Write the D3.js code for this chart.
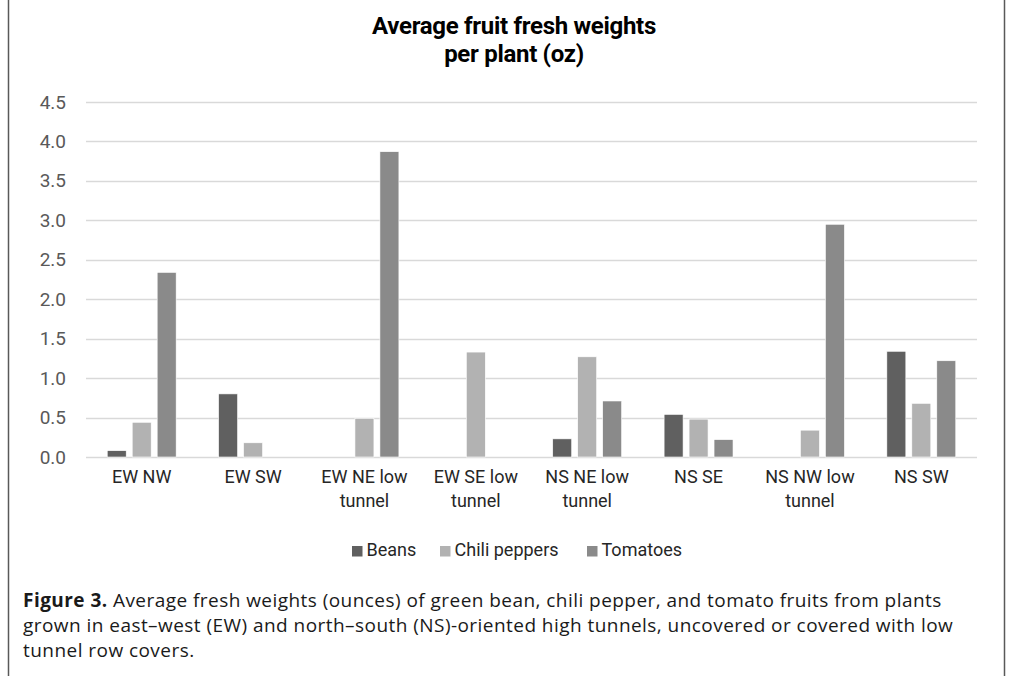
<!DOCTYPE html>
<html>
<head>
<meta charset="utf-8">
<script src="https://cdn.jsdelivr.net/npm/d3@7"></script>
<style>
  html, body { margin: 0; padding: 0; background: #fff; }
  svg { display: block; }
</style>
</head>
<body>
<svg id="chart" width="1011" height="676"></svg>
<script>
const categories = ["EW NW", "EW SW", "EW NE low tunnel", "EW SE low tunnel", "NS NE low tunnel", "NS SE", "NS NW low tunnel", "NS SW"];
const seriesNames = ["Beans", "Chili peppers", "Tomatoes"];
const beans = [0.08, 0.80, 0, 0, 0.23, 0.54, 0, 1.34];
const chiliPeppers = [0.44, 0.18, 0.49, 1.33, 1.27, 0.48, 0.34, 0.68];
const tomatoes = [2.34, 0, 3.87, 0, 0.71, 0.22, 2.95, 1.22];
const yTicks = [0, 0.5, 1.0, 1.5, 2.0, 2.5, 3.0, 3.5, 4.0, 4.5];
const seriesColors = ["#606060", "#b2b2b2", "#8a8a8a"];
const titleLines = ["Average fruit fresh weights", "per plant (oz)"];
const captionBold = "Figure 3.";
const captionLines = [
  " Average fresh weights (ounces) of green bean, chili pepper, and tomato fruits from plants",
  "grown in east\u2013west (EW) and north\u2013south (NS)-oriented high tunnels, uncovered or covered with low",
  "tunnel row covers."
];

(function () {
const seriesValues = [beans, chiliPeppers, tomatoes];
const data = categories.map((c, i) => ({
  cat: c,
  vals: seriesNames.map((s, j) => ({ series: s, idx: j, value: seriesValues[j][i] }))
}));

const svg = d3.select("#chart");

// figure border
svg.append("line").attr("x1", 8.5).attr("x2", 8.5).attr("y1", 0).attr("y2", 676)
  .attr("stroke", "#595959").attr("stroke-width", 1.5);
svg.append("line").attr("x1", 1004.5).attr("x2", 1004.5).attr("y1", 0).attr("y2", 676)
  .attr("stroke", "#595959").attr("stroke-width", 1.5);

const pLeft = 86, pRight = 977, pTop = 102, pBottom = 457;

const x0 = d3.scaleBand().domain(categories).range([pLeft, pRight]).padding(0);
const x1 = d3.scaleBand().domain(seriesNames).range([0, x0.bandwidth()])
  .paddingInner(0.24).paddingOuter(0.85);
const y = d3.scaleLinear().domain([0, 4.5]).range([pBottom, pTop]);
const color = d3.scaleOrdinal().domain(seriesNames).range(seriesColors);

// gridlines
svg.append("g").selectAll("line").data(yTicks).join("line")
  .attr("x1", pLeft).attr("x2", pRight)
  .attr("y1", d => Math.round(y(d)) + 0.5).attr("y2", d => Math.round(y(d)) + 0.5)
  .attr("stroke", "#d9d9d9").attr("stroke-width", 1.5);

// y axis labels
const yAxis = d3.axisLeft(y).tickValues(yTicks).tickFormat(d3.format(".1f")).tickSize(0).tickPadding(0);
const yg = svg.append("g").attr("transform", `translate(66,0)`).call(yAxis);
yg.select(".domain").remove();
yg.selectAll("text")
  .attr("font-family", "Roboto, sans-serif").attr("font-size", 19).attr("fill", "#595959");

// bars
const groups = svg.append("g").selectAll("g").data(data).join("g")
  .attr("transform", d => `translate(${x0(d.cat)},0)`);
groups.selectAll("rect").data(d => d.vals.filter(v => v.value > 0)).join("rect")
  .attr("x", d => x1(d.series))
  .attr("width", x1.bandwidth())
  .attr("y", d => y(d.value))
  .attr("height", d => y(0) - y(d.value))
  .attr("fill", d => color(d.series))
  .attr("stroke", "#ffffff").attr("stroke-width", 0.6);

// x axis labels
const xAxis = d3.axisBottom(x0).tickSize(0).tickPadding(0).tickFormat("");
const xg = svg.append("g").attr("transform", `translate(0,${pBottom})`).call(xAxis);
xg.select(".domain").remove();
xg.selectAll(".tick").each(function(d) {
  const parts = d.includes(" tunnel") ? [d.replace(" tunnel", ""), "tunnel"] : [d];
  const t = d3.select(this).append("text")
    .attr("text-anchor", "middle")
    .attr("font-family", "Roboto, sans-serif").attr("font-size", 18).attr("fill", "#262626");
  parts.forEach((p, i) => {
    t.append("tspan").attr("x", 0).attr("y", 26 + i * 23.5).text(p);
  });
});

// title
const title = svg.append("text").attr("text-anchor", "middle")
  .attr("font-family", "Roboto, sans-serif").attr("font-weight", "bold")
  .attr("font-size", 24).attr("letter-spacing", -0.3).attr("fill", "#000");
titleLines.forEach((l, i) => {
  title.append("tspan").attr("x", 514).attr("y", 34 + i * 28).text(l);
});

// legend
const legendX = [352, 440, 587];
const lg = svg.append("g").selectAll("g").data(seriesNames).join("g")
  .attr("transform", (d, i) => `translate(${legendX[i]},0)`);
lg.append("rect").attr("x", 0).attr("y", 546).attr("width", 10.5).attr("height", 10.5)
  .attr("fill", d => color(d));
lg.append("text").attr("x", 14.5).attr("y", 556)
  .attr("font-family", "Roboto, sans-serif").attr("font-size", 18).attr("fill", "#262626")
  .text(d => d);

// caption
const cap = svg.append("g");
captionLines.forEach((l, i) => {
  const t = cap.append("text").attr("x", 23).attr("y", 607 + i * 25)
    .attr("font-family", "'Open Sans', sans-serif").attr("font-size", 19)
    .attr("letter-spacing", 0.45).attr("fill", "#1a1a1a");
  if (i === 0) {
    t.append("tspan").attr("font-weight", "bold").text(captionBold);
  }
  t.append("tspan").text(l);
});
})();
</script>
</body>
</html>
